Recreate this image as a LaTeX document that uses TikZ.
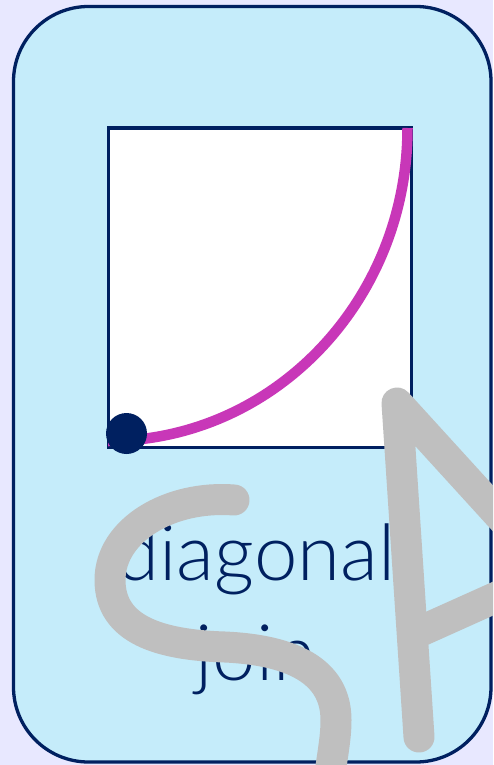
\documentclass[tikz,border=0pt]{standalone}
\usepackage{fontspec}
\setmainfont{Lato}[UprightFont={* Light}]
\definecolor{navy}{RGB}{0,32,96}
\definecolor{bglav}{RGB}{232,232,255}
\definecolor{panelblue}{RGB}{197,236,250}
\definecolor{curvemag}{RGB}{200,55,184}
\definecolor{wmgray}{RGB}{191,191,191}
\tikzset{
  navyline/.style={draw=navy, line width=3.3pt},
  watermark/.style={draw=wmgray, line width=31pt, line cap=round, line join=round},
}
\begin{document}
\begin{tikzpicture}[x=1pt,y=-1pt]
\useasboundingbox (0,0) rectangle (493,765);
\clip (0,0) rectangle (493,765);
\fill[bglav] (0,0) rectangle (493,765);
% panel
\draw[navyline, fill=panelblue, rounded corners=75pt] (13.5,6.5) rectangle (491,762);
% white box
\draw[navyline, fill=white] (108.5,128) rectangle (411.5,447.5);
% curve
\coordinate (cstart) at (108,441);
\coordinate (cend) at (407.5,128);
\draw[curvemag, line width=10.5pt] (cstart) .. controls (273.4,441) and (407.5,300.9) .. (cend);
% dot
\fill[navy] (126.5,433.5) circle[radius=20.5];
% label
\node[text=navy, font=\fontsize{78}{100}\selectfont, align=center, inner sep=0pt] (label) at (256,609) {diagonal\\join};
% watermark S
\draw[watermark] (234,500) .. controls (170,495) and (110,530) .. (110,580)
  .. controls (110,630) and (160,645) .. (225,647)
  .. controls (290,650) and (336,670) .. (336,720)
  .. controls (336,740) and (332,755) .. (328,790);
% watermark A
\draw[watermark] (419,737) -- (397,403) -- (540,560);
\draw[watermark, line cap=butt] (412,635) -- (530,582);
\end{tikzpicture}
\end{document}
